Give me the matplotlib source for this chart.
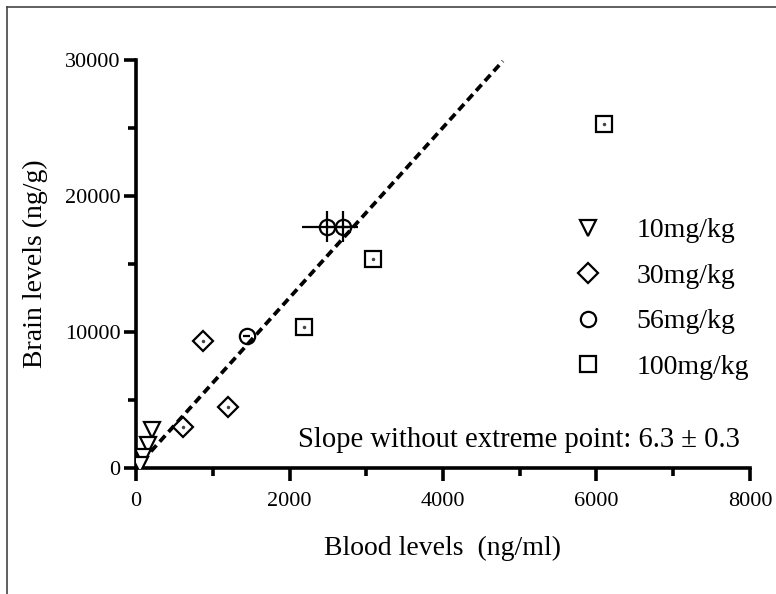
import numpy as np
import matplotlib.pyplot as plt
from matplotlib.lines import Line2D
from matplotlib.ticker import MultipleLocator

plt.rcParams["font.family"] = ["Liberation Serif", "DejaVu Serif"]

# values
blood_10 = [212, 160, 95, 52]
brain_10 = [2800, 1690, 830, 220]

blood_30 = [608, 1194, 876]
brain_30 = [3040, 4510, 9340]

blood_56 = [1441, 2483, 2691]
brain_56 = [9730, 17740, 17740]
blood_56_err = [50, 322, 200]
brain_56_err = [0, 1140, 1140]

blood_100 = [2187, 3082, 6098]
brain_100 = [10390, 15370, 25270]

slope = 6.26
fit_x = np.array([80, 4780])

labels = ["10mg/kg", "30mg/kg", "56mg/kg", "100mg/kg"]

fig = plt.figure(figsize=(7.76, 5.94), dpi=100)
ax = fig.add_axes([136 / 776, 1 - 468 / 594, 614 / 776, 408 / 594])

mk = dict(ls="none", mfc="white", mec="black", mew=1.6, color="black")
ax.plot(fit_x, slope * fit_x, color="black", lw=2.7, ls=(0, (2.2, 1.3)), zorder=2)

h1, = ax.plot(blood_10, brain_10, marker="v", ms=12, zorder=3, **mk)
h2, = ax.plot(blood_30, brain_30, marker="D", ms=10, zorder=3, **mk)
ax.errorbar(blood_56, brain_56, xerr=blood_56_err, yerr=brain_56_err,
            fmt="none", ecolor="black", elinewidth=1.6, capsize=0, zorder=4)
h3, = ax.plot(blood_56, brain_56, marker="o", ms=11, mfc="none",
              mec="black", mew=1.6, ls="none", zorder=5)
h4, = ax.plot(blood_100, brain_100, marker="s", ms=12, zorder=3, **mk)

# little center dots left over in the original
for xs, ys in [(blood_30, brain_30), (blood_100, brain_100)]:
    ax.plot(xs, ys, marker="o", ms=1.5, color="#444444", ls="none", zorder=4)

ax.set_xlim(0, 8000)
ax.set_ylim(0, 30000)
ax.xaxis.set_major_locator(MultipleLocator(2000))
ax.xaxis.set_minor_locator(MultipleLocator(1000))
ax.yaxis.set_major_locator(MultipleLocator(10000))
ax.yaxis.set_minor_locator(MultipleLocator(5000))

for s in ["top", "right"]:
    ax.spines[s].set_visible(False)
for s in ["left", "bottom"]:
    ax.spines[s].set_linewidth(2.6)
ax.tick_params(which="major", length=9, width=2.6, labelsize=16)
ax.tick_params(which="minor", length=5.5, width=2.6)
ax.tick_params(axis="x", which="major", pad=8)
ax.tick_params(axis="y", which="major", pad=2)

ax.set_xlabel("Blood levels  (ng/ml)", fontsize=20, labelpad=18)
ax.set_ylabel("Brain levels (ng/g)", fontsize=20, labelpad=12)

ax.text(0.264, 0.0515, "Slope without extreme point: 6.3 \u00b1 0.3",
        transform=ax.transAxes, fontsize=20.6, va="baseline", ha="left")

fig.legend([h1, h2, h3, h4], labels, loc="upper left",
           bbox_to_anchor=(560 / 776, 1 - 218 / 594), frameon=False,
           fontsize=20, handlelength=2.0, handletextpad=0.75,
           labelspacing=0.72, borderpad=0, borderaxespad=0)

# thin frame of the original scan (top and left edges)
fig.add_artist(Line2D([7 / 776, 1], [1 - 7 / 594, 1 - 7 / 594],
                      color="#444444", lw=1.2))
fig.add_artist(Line2D([7 / 776, 7 / 776], [0, 1 - 7 / 594],
                      color="#444444", lw=1.2))

fig.savefig("out.png", dpi=100)
